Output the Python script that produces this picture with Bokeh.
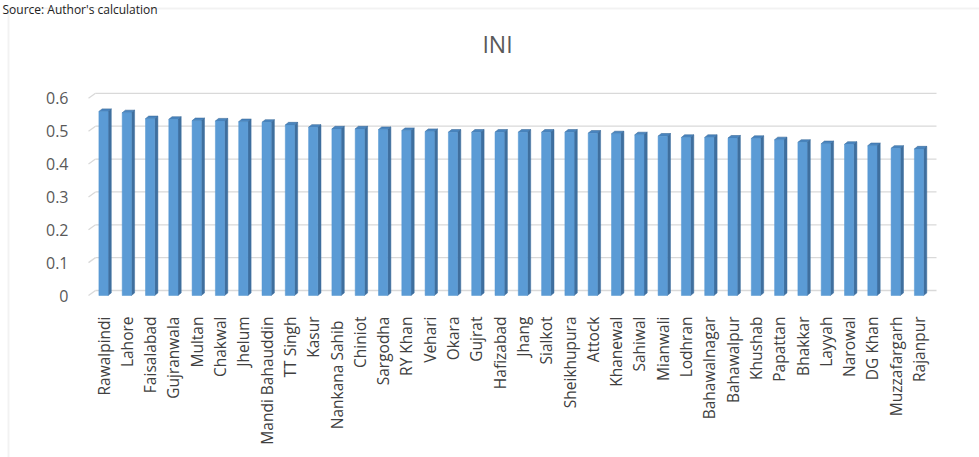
import math
from bokeh.plotting import figure
from bokeh.models import (Range1d, FixedTicker, Label, BoxAnnotation,
                          LinearAxis)
from bokeh.embed import file_html
from bokeh.resources import INLINE

# INI by district
districts = [
    "Rawalpindi", "Lahore", "Faisalabad", "Gujranwala", "Multan", "Chakwal",
    "Jhelum", "Mandi Bahauddin", "TT Singh", "Kasur", "Nankana  Sahib", "Chiniot",
    "Sargodha", "RY Khan", "Vehari", "Okara", "Gujrat", "Hafizabad", "Jhang",
    "Sialkot", "Sheikhupura", "Attock", "Khanewal", "Sahiwal", "Mianwali",
    "Lodhran", "Bahawalnagar", "Bahawalpur", "Khushab", "Papattan", "Bhakkar",
    "Layyah", "Narowal", "DG Khan", "Muzzafargarh", "Rajanpur",
]
ini = [
    0.560, 0.556, 0.538, 0.536, 0.532, 0.531,
    0.529, 0.527, 0.519, 0.512, 0.507, 0.507,
    0.505, 0.502, 0.499, 0.497, 0.497, 0.497, 0.497,
    0.497, 0.497, 0.494, 0.492, 0.489, 0.485,
    0.481, 0.481, 0.479, 0.478, 0.474, 0.466,
    0.462, 0.460, 0.456, 0.448, 0.446,
]
y_ticks = [0, 0.1, 0.2, 0.3, 0.4, 0.5, 0.6]

# canvas geometry (pixels); the frame fills the whole canvas
W, H = 979, 457
STEP = 23.3            # pixels per category
PX_PER_UNIT = 328.6    # pixels per 1.0 of INI
FIRST_X = 103          # pixel centre of the first column
BASE_Y = 295           # pixel row of INI = 0

def px_x(px):
    return (px - FIRST_X) / STEP

def px_y(py):
    return (BASE_Y - py) / PX_PER_UNIT

def dx(px):
    return px / STEP

def dy(px):
    return px / PX_PER_UNIT

p = figure(width=W, height=H, output_backend="svg", toolbar_location=None,
           x_range=Range1d(px_x(0), px_x(W)), y_range=Range1d(px_y(H), px_y(0)),
           x_axis_location=None, y_axis_location=None,
           min_border=0, min_border_left=0, min_border_right=0,
           min_border_top=0, min_border_bottom=0)
p.outline_line_color = None
p.background_fill_color = "white"
p.border_fill_color = "white"
p.xgrid.visible = False
p.ygrid.visible = False

# chart area border
p.add_layout(BoxAnnotation(left=px_x(8), right=px_x(W + 20),
                           top=px_y(8), bottom=px_y(H + 20),
                           fill_color=None, line_color="#d4d4d4", line_width=2))

# back-wall gridlines with a short floor diagonal on the left
g_dx, g_dy = dx(7), dy(5)
left_front = px_x(88)
right_back = px_x(936)
p.segment(x0=[left_front + g_dx] * len(y_ticks), y0=[t + g_dy for t in y_ticks],
          x1=[right_back] * len(y_ticks), y1=[t + g_dy for t in y_ticks],
          line_color="#d9d9d9", line_width=1.3)
p.segment(x0=[left_front] * len(y_ticks), y0=y_ticks,
          x1=[left_front + g_dx] * len(y_ticks), y1=[t + g_dy for t in y_ticks],
          line_color="#d9d9d9", line_width=1.3)

# 3-D style columns: front face, darker right side and top
half = dx(4.6)
s_dx, s_dy = dx(3.2), dy(2.6)
xs = list(range(len(ini)))
side_xs, side_ys, top_xs, top_ys = [], [], [], []
for x, v in zip(xs, ini):
    side_xs.append([x + half, x + half + s_dx, x + half + s_dx, x + half])
    side_ys.append([0, s_dy, v + s_dy, v])
    top_xs.append([x - half, x - half + s_dx, x + half + s_dx, x + half])
    top_ys.append([v, v + s_dy, v + s_dy, v])

p.patches(xs=side_xs, ys=side_ys, fill_color="#3f6f9e", line_color="#3f6f9e", line_width=0.5)
p.patches(xs=top_xs, ys=top_ys, fill_color="#4a86c0", line_color="#3a6a98", line_width=0.6)
p.vbar(x=xs, top=ini, bottom=0, width=2 * half, fill_color="#5b9bd5",
       line_color="#5596d0", line_width=0.5)

# value axis, pinned just left of the columns
yaxis = LinearAxis(fixed_location=px_x(85), ticker=FixedTicker(ticks=y_ticks))
yaxis.axis_line_color = None
yaxis.major_tick_line_color = None
yaxis.minor_tick_line_color = None
yaxis.major_label_text_font = "Open Sans"
yaxis.major_label_text_font_size = "16px"
yaxis.major_label_text_color = "#595959"
yaxis.major_label_standoff = 11
yaxis.major_label_overrides = {0: "0"}
p.add_layout(yaxis, "left")

# district axis, pinned at INI = 0
xaxis = LinearAxis(fixed_location=0, ticker=FixedTicker(ticks=xs))
xaxis.major_label_overrides = {i: name for i, name in enumerate(districts)}
xaxis.major_label_orientation = math.pi / 2
xaxis.axis_line_color = None
xaxis.major_tick_line_color = None
xaxis.minor_tick_line_color = None
xaxis.major_label_text_font = "Open Sans"
xaxis.major_label_text_font_size = "15.5px"
xaxis.major_label_text_color = "#404040"
xaxis.major_label_standoff = 15
p.add_layout(xaxis, "below")

# title and source note
p.add_layout(Label(x=px_x(497), y=px_y(43), text="INI",
                   text_font="Open Sans", text_font_size="23px", text_color="#595959",
                   text_align="center", text_baseline="middle"))
p.add_layout(Label(x=px_x(2), y=px_y(9),
                   text="Source: Author's calculation",
                   text_font="Open Sans", text_font_size="12px", text_color="#222222",
                   text_align="left", text_baseline="alphabetic"))

open("out.html", "w").write(file_html(p, INLINE))
